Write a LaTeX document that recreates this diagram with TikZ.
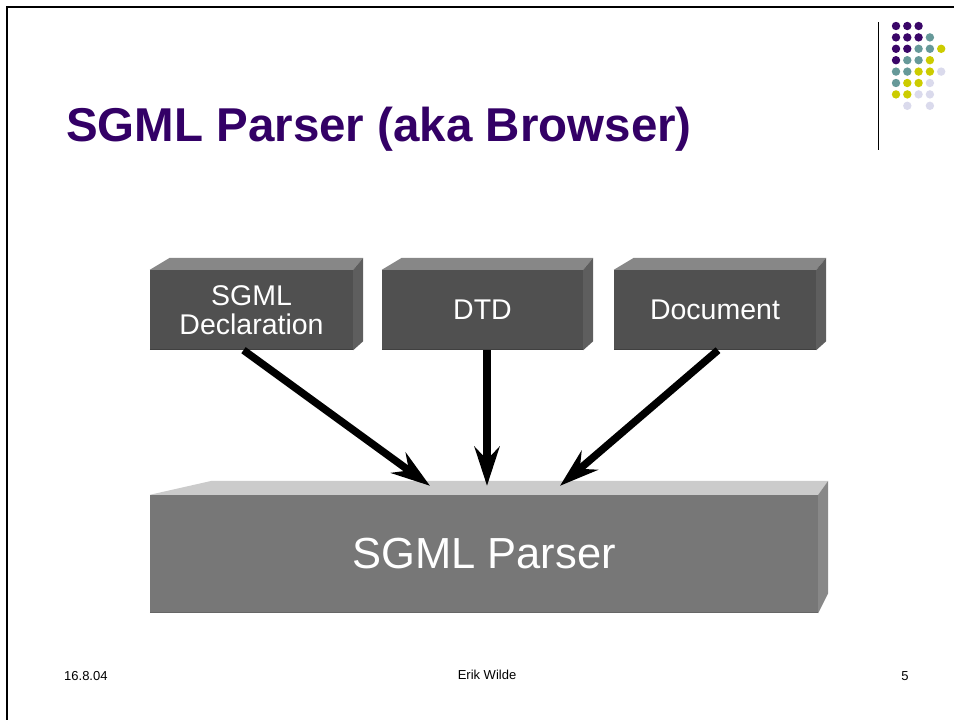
\documentclass[tikz,border=0pt]{standalone}
\usepackage{fontspec}
\newfontfamily\arialfont{Liberation Sans}
\usetikzlibrary{arrows.meta,calc}
\definecolor{titlepurple}{HTML}{330066}
\definecolor{dotpurple}{HTML}{3A0668}
\definecolor{dotteal}{HTML}{669999}
\definecolor{dotyellow}{HTML}{CCCC00}
\definecolor{dotlavender}{HTML}{DADAEC}
\definecolor{smallfront}{HTML}{505050}
\definecolor{smalltop}{HTML}{878787}
\definecolor{smallside}{HTML}{5E5E5E}
\definecolor{bigfront}{HTML}{777777}
\definecolor{bigtop}{HTML}{CBCBCB}
\definecolor{bigside}{HTML}{888888}
\begin{document}
\begin{tikzpicture}[x=1pt,y=-1pt,
  smallbox/.style={rectangle, fill=smallfront, draw=none, inner sep=0pt,
    minimum height=80pt, text=white, align=center,
    font=\arialfont\fontsize{28.5}{28.5}\selectfont},
  bigbox/.style={rectangle, fill=bigfront, draw=none, inner sep=0pt,
    minimum width=668pt, minimum height=118pt, text=white,
    font=\arialfont\fontsize{43.5}{46}\selectfont},
  flow/.style={line width=7.5pt, draw=black,
    -{Stealth[length=39pt,width=25pt,inset=13pt]}},
  footer/.style={anchor=base, inner sep=0pt, text=black,
    font=\arialfont\fontsize{13}{15}\selectfont},
  dot/.style={radius=4.2pt}]
\useasboundingbox (0,0) rectangle (954,720);

% slide frame (top and left edges)
\draw[line width=2pt] (7,720) -- (7,7) -- (954,7);

% logo: rule and dot grid
\draw[line width=1pt] (878,22) -- (878,150);
\foreach \c/\r/\col in {
  0/0/dotpurple,1/0/dotpurple,2/0/dotpurple,
  0/1/dotpurple,1/1/dotpurple,2/1/dotpurple,3/1/dotteal,
  0/2/dotpurple,1/2/dotpurple,2/2/dotteal,3/2/dotteal,4/2/dotyellow,
  0/3/dotpurple,1/3/dotteal,2/3/dotteal,3/3/dotyellow,
  0/4/dotteal,1/4/dotteal,2/4/dotyellow,3/4/dotyellow,4/4/dotlavender,
  0/5/dotteal,1/5/dotyellow,2/5/dotyellow,3/5/dotlavender,
  0/6/dotyellow,1/6/dotyellow,2/6/dotlavender,3/6/dotlavender,
  1/7/dotlavender,3/7/dotlavender}
  \fill[\col] ({896+11.3*\c},{26+11.4*\r}) circle[dot];

% title
\node[anchor=base west, inner sep=0pt, text=titlepurple,
  font=\arialfont\bfseries\fontsize{47.5}{52}\selectfont]
  (title) at (66,141) {SGML Parser (aka Browser)};

% input boxes
\node[smallbox, minimum width=203pt] (decl) at (251.5,310) {SGML\\Declaration};
\node[smallbox, minimum width=201pt] (dtd)  at (482.5,310) {\raisebox{-2.5pt}{DTD}};
\node[smallbox, minimum width=202pt] (doc)  at (715,310)   {\raisebox{-2.5pt}{Document}};

\foreach \b in {decl,dtd,doc}{
  \fill[smalltop] (\b.north west) -- ($(\b.north west)+(20,-12)$)
    -- ($(\b.north east)+(10,-12)$) -- (\b.north east) -- cycle;
  \fill[smallside] (\b.north east) -- ($(\b.north east)+(10,-12)$)
    -- ($(\b.south east)+(10,-9)$) -- (\b.south east) -- cycle;
  \draw[line width=1pt, draw=black!75] ($(\b.south west)+(0,-0.5)$) -- ($(\b.south east)+(0,-0.5)$);
}

% parser box
\node[bigbox] (parser) at (484,554) {\raisebox{-2.5pt}{SGML Parser}};
\fill[bigtop] (parser.north west) -- ($(parser.north west)+(62,-14)$)
  -- ($(parser.north east)+(10,-14)$) -- (parser.north east) -- cycle;
\fill[bigside] (parser.north east) -- ($(parser.north east)+(10,-14)$)
  -- ($(parser.south east)+(10,-20)$) -- (parser.south east) -- cycle;
\draw[line width=1pt, draw=black!60] ($(parser.south west)+(0,-0.5)$) -- ($(parser.south east)+(0,-0.5)$);

% data flow into the parser
\draw[flow] ($(decl.south)+(-8,0)$) -- ($(parser.north)+(-54,-9)$);
\draw[flow] ($(dtd.south)+(4.5,0)$) -- ($(parser.north)+(3,-9)$);
\draw[flow] ($(doc.south)+(3,0)$)   -- ($(parser.north)+(76,-9)$);

% footer
\node[footer, anchor=base west] (date)   at (64,680)  {16.8.04};
\node[footer]                   (author) at (487,679) {Erik Wilde};
\node[footer]                   (page)   at (905,680) {5};
\end{tikzpicture}
\end{document}
